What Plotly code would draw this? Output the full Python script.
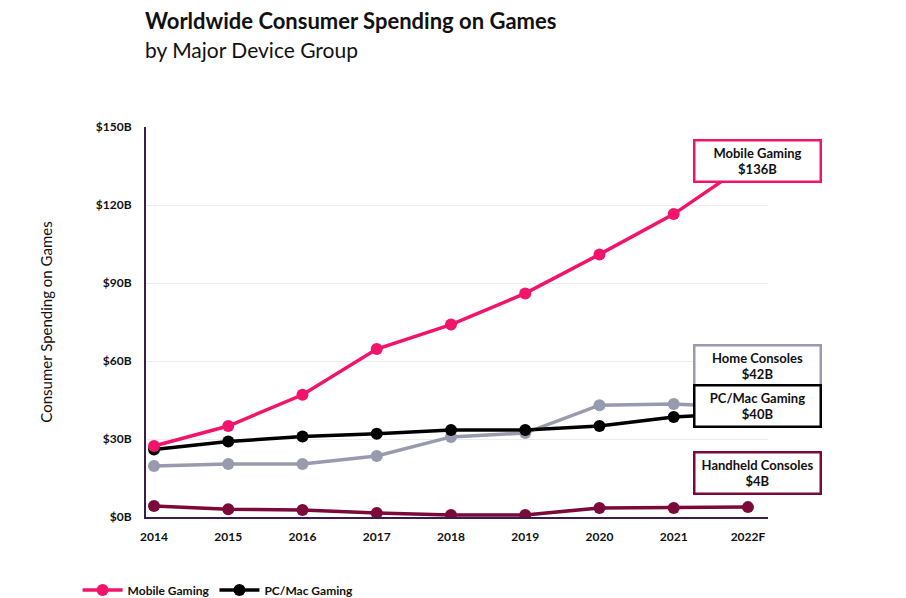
import plotly.graph_objects as go

years = ["2014","2015","2016","2017","2018","2019","2020","2021","2022F"]
mobile = [27.3,35,47,64.6,74,86,101,116.5,136]
pc = [26,29,31,32,33.5,33.5,35,38.5,40]
home = [19.6,20.4,20.4,23.5,30.8,32.3,43,43.5,42]
handheld = [4.2,3,2.7,1.5,0.8,0.8,3.5,3.5,3.8]
yticks = [0,30,60,90,120,150]
ylabels = ["$0B","$30B","$60B","$90B","$120B","$150B"]

series = [
    ("Home Consoles", home, "#989aae", False, "$42B", 380),
    ("Handheld Consoles", handheld, "#7b0a3a", False, "$4B", 487),
    ("PC/Mac Gaming", pc, "#000000", True, "$40B", 420),
    ("Mobile Gaming", mobile, "#f2146a", True, "$136B", 131),
]
F = "Lato, sans-serif"
fig = go.Figure()
for name, vals, col, leg, lab, ypix in series:
    fig.add_trace(go.Scatter(x=years, y=vals, name=name, mode="lines+markers",
        line=dict(color=col, width=3.5), marker=dict(size=12, color=col),
        showlegend=leg))
    fig.add_annotation(xref="paper", yref="paper", x=(814-138)/622, y=(509-ypix)/390,
        text=f"<b>{name}<br>{lab}</b>", showarrow=False, font=dict(family=F, size=13, color="#111"),
        bordercolor=col, borderwidth=2.5, borderpad=3, bgcolor="white", width=118)
fig.update_layout(
    width=906, height=598, plot_bgcolor="white", paper_bgcolor="white",
    margin=dict(l=138, r=146, t=119, b=89, autoexpand=False),
    font=dict(family=F, color="#111"),
    title=dict(text="<b>Worldwide Consumer Spending on Games</b><br><span style='font-size:21px'>by Major Device Group</span>",
               x=137/906, xanchor="left", y=0.965, yanchor="top", font=dict(size=22, family=F)),
    xaxis=dict(type="category", range=[-0.108, 8.27], showline=True, linecolor="#3a1d4a", linewidth=2,
               showgrid=False, ticks="outside", ticklen=8, tickcolor="rgba(0,0,0,0)",
               tickfont=dict(size=12, family=F, weight="bold")),
    yaxis=dict(range=[0,150], tickvals=yticks, ticktext=ylabels, showline=True, linecolor="#3a1d4a",
               linewidth=2, gridcolor="#ececec", zeroline=False, ticks="outside", ticklen=10,
               tickcolor="rgba(0,0,0,0)", tickfont=dict(size=12, family=F, weight="bold"),
               title=dict(text="Consumer Spending on Games", font=dict(size=15), standoff=40)),
    legend=dict(orientation="h", x=-0.11, y=-0.15, xanchor="left", yanchor="top",
                font=dict(size=12, family=F, weight="bold"), traceorder="reversed", itemwidth=40),
)
fig.write_html("out.html")
